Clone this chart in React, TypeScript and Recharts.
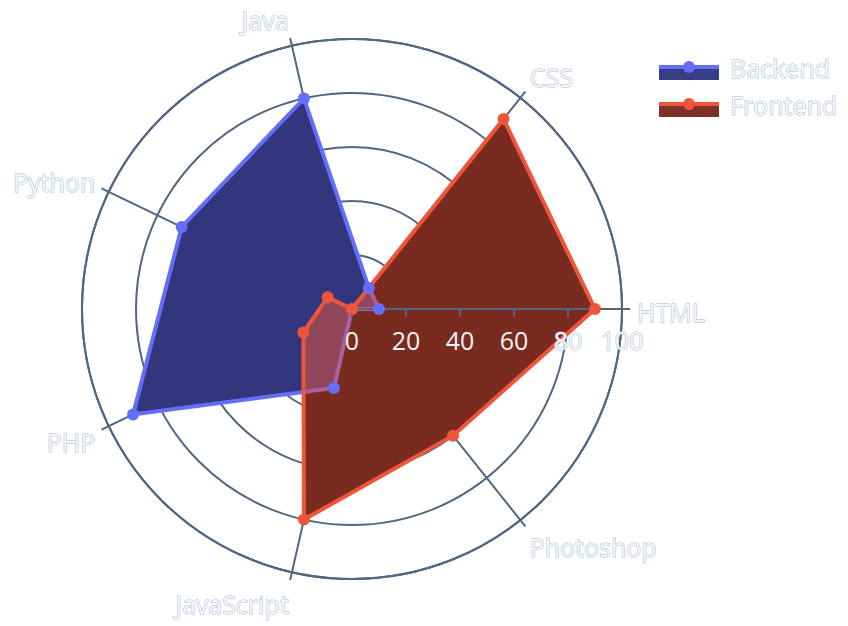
import { RadarChart, Radar, PolarGrid, PolarAngleAxis, PolarRadiusAxis } from 'recharts';

const categories = ['HTML', 'CSS', 'Java', 'Python', 'PHP', 'JavaScript', 'Photoshop'];
const backendValues = [10, 10, 80, 70, 90, 30, 0];
const frontendValues = [90, 90, 0, 10, 20, 80, 60];
const radiusTicks = [0, 20, 40, 60, 80, 100];

const data = categories.map((c, i) => ({
  skill: c,
  backend: backendValues[i],
  frontend: frontendValues[i],
}));

const BLUE = '#636efa';
const RED = '#ef553b';
const GRID = '#506784';
const FONT = '"Open Sans", "DejaVu Sans", sans-serif';
const STEP = 360 / categories.length;

const textStyle = {
  fill: '#f2f5fa',
  stroke: '#a9b9d6',
  strokeWidth: 1,
  paintOrder: 'stroke' as const,
  fontFamily: FONT,
  fontSize: 25,
};

// label angle from category index (HTML on the right, counter-clockwise)
const AngleTick = (props: any) => {
  const { cx, cy, payload } = props;
  const idx = categories.indexOf(payload.value);
  const a = (idx * STEP * Math.PI) / 180;
  const r = 285;
  const x = cx + r * Math.cos(a);
  const y = cy - r * Math.sin(a) - 15 * Math.sin(a) + 3;
  const anchor = Math.cos(a) > 0.05 ? 'start' : Math.cos(a) < -0.05 ? 'end' : 'middle';
  return (
    <text x={x} y={y} textAnchor={anchor} dominantBaseline="central" style={textStyle}>
      {payload.value}
    </text>
  );
};

const RadiusTick = (props: any) => {
  const { x, y, payload } = props;
  const inside = payload.value < 80;
  return (
    <g>
      <line x1={x} y1={y} x2={x} y2={y + 8} stroke={GRID} strokeWidth={2} />
      <text
        x={x}
        y={y + 31}
        textAnchor="middle"
        dominantBaseline="central"
        style={inside ? { ...textStyle, stroke: 'none' } : textStyle}
      >
        {payload.value}
      </text>
    </g>
  );
};

const legendItems = [
  { name: 'Backend', color: BLUE, fill: '#383e86' },
  { name: 'Frontend', color: RED, fill: '#7f3026' },
];

const LegendBox = () => (
  <svg
    width={190}
    height={80}
    style={{ position: 'absolute', left: 658, top: 50, overflow: 'visible' }}
  >
    {legendItems.map((s, i) => (
      <g key={s.name} transform={`translate(0, ${i * 37})`}>
        <rect x={1} y={17} width={60} height={13} fill={s.fill} />
        <line x1={1} y1={17} x2={61} y2={17} stroke={s.color} strokeWidth={4} />
        <circle cx={31} cy={17} r={6} fill={s.color} />
        <text x={72} y={18} dominantBaseline="central" style={textStyle}>
          {s.name}
        </text>
      </g>
    ))}
  </svg>
);

export default function App() {
  return (
    <div style={{ position: 'absolute', left: 0, top: 0, width: 848, height: 626, background: '#fff' }}>
      <RadarChart
        width={848}
        height={626}
        data={data}
        cx={352}
        cy={309}
        outerRadius={270}
        startAngle={-STEP}
        endAngle={360 - STEP}
        margin={{ top: 0, right: 0, bottom: 0, left: 0 }}
      >
        <Radar dataKey="backend" stroke="none" fill="#000" fillOpacity={1} dot={false} isAnimationActive={false} legendType="none" />
        <Radar dataKey="frontend" stroke="none" fill="#000" fillOpacity={1} dot={false} isAnimationActive={false} legendType="none" />
        <PolarGrid gridType="circle" stroke={GRID} strokeWidth={2} />
        <Radar
          name="Backend"
          dataKey="backend"
          stroke={BLUE}
          strokeWidth={4}
          fill={BLUE}
          fillOpacity={0.5}
          dot={{ r: 6, fill: BLUE, stroke: 'none', fillOpacity: 1 }}
          isAnimationActive={false}
        />
        <Radar
          name="Frontend"
          dataKey="frontend"
          stroke={RED}
          strokeWidth={4}
          fill={RED}
          fillOpacity={0.5}
          dot={{ r: 6, fill: RED, stroke: 'none', fillOpacity: 1 }}
          isAnimationActive={false}
        />
        <PolarAngleAxis
          dataKey="skill"
          tick={<AngleTick />}
          tickSize={8}
          axisLineType="circle"
          tickLine={{ stroke: GRID, strokeWidth: 2 }}
          axisLine={{ stroke: GRID, strokeWidth: 2 }}
        />
        <PolarRadiusAxis
          angle={0}
          domain={[0, 100]}
          ticks={radiusTicks as any}
          tickCount={6}
          axisLine={{ stroke: GRID, strokeWidth: 2 }}
          tick={<RadiusTick />}
        />
      </RadarChart>
      <LegendBox />
    </div>
  );
}
